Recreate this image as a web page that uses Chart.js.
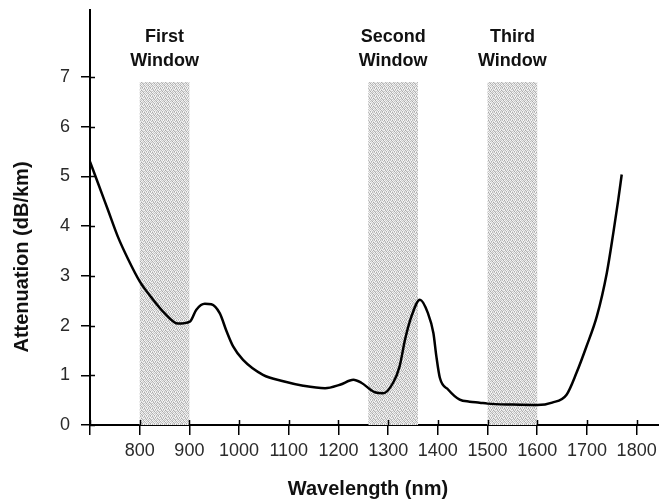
<!DOCTYPE html>
<html>
<head>
<meta charset="utf-8">
<script src="https://cdn.jsdelivr.net/npm/chart.js@4.4.1/dist/chart.umd.min.js"></script>
<style>
  html, body { margin: 0; padding: 0; background: #fff; }
  #wrap { width: 659px; height: 501px; }
</style>
</head>
<body>
<div id="wrap"><canvas id="lossChart" width="659" height="501"></canvas></div>
<script>
/*
  Fibre attenuation vs wavelength, with the three
  transmission windows shaded behind the curve.
*/

// curve samples
const wavelengthNm = [700, 716, 736, 756, 777, 800, 824, 850, 877, 901,
  914, 931, 944, 961, 975, 988, 1008, 1048, 1089, 1129,
  1173, 1203, 1230, 1246, 1273, 1290, 1310, 1323, 1334, 1347,
  1364, 1380, 1391, 1397, 1404, 1421, 1444, 1464, 1484, 1500,
  1550, 1600, 1630, 1659, 1679, 1699, 1720, 1740, 1753, 1763, 1770];
const attenuationDb = [5.30, 4.87, 4.33, 3.79, 3.33, 2.89, 2.56, 2.25, 2.04, 2.08,
  2.32, 2.44, 2.43, 2.25, 1.88, 1.58, 1.31, 1.01, 0.88, 0.79,
  0.74, 0.81, 0.91, 0.85, 0.66, 0.64, 0.85, 1.18, 1.72, 2.19,
  2.52, 2.25, 1.85, 1.38, 0.95, 0.71, 0.51, 0.47, 0.45, 0.43,
  0.41, 0.40, 0.45, 0.61, 1.05, 1.58, 2.19, 3.06, 3.86, 4.53, 5.04];

// transmission windows
const windowNames = [["First", "Window"], ["Second", "Window"], ["Third", "Window"]];
const windowStart = [800, 1260, 1500];
const windowEnd = [900, 1360, 1600];
const windowTop = 6.9;

// axes
const xTickValues = [700, 800, 900, 1000, 1100, 1200, 1300, 1400, 1500, 1600, 1700, 1800];
const xTickLabels = ["", "800", "900", "1000", "1100", "1200", "1300", "1400", "1500", "1600", "1700", "1800"];
const yTickValues = [0, 1, 2, 3, 4, 5, 6, 7];
const xTitle = "Wavelength (nm)";
const yTitle = "Attenuation (dB/km)";

const FONT = "'Liberation Sans', Arial, sans-serif";

// dotted grey fill, like a halftone screen
function makeStipple() {
  const greys = [
    0xa8, 0xf0, 0xd0, 0xfa, 0xb8, 0xe4, 0xc4, 0xf6,
    0xdc, 0xc0, 0xf8, 0xb0, 0xec, 0xd8, 0xfa, 0xbc,
    0xf4, 0xb4, 0xe0, 0xcc, 0xf2, 0xa8, 0xdc, 0xee,
    0xc8, 0xea, 0xac, 0xf6, 0xc0, 0xf0, 0xb6, 0xd4,
    0xf8, 0xd0, 0xee, 0xbc, 0xe2, 0xc8, 0xf4, 0xae,
    0xb2, 0xf4, 0xc6, 0xe6, 0xaa, 0xfa, 0xd2, 0xe8,
    0xe6, 0xbc, 0xf8, 0xd2, 0xf0, 0xb4, 0xe8, 0xc2,
    0xd6, 0xee, 0xb0, 0xf2, 0xca, 0xe0, 0xac, 0xf8
  ];
  const c = document.createElement("canvas");
  c.width = 8;
  c.height = 8;
  const g = c.getContext("2d");
  const img = g.createImageData(8, 8);
  greys.forEach((v, i) => {
    img.data[i * 4] = v;
    img.data[i * 4 + 1] = v;
    img.data[i * 4 + 2] = v;
    img.data[i * 4 + 3] = 255;
  });
  g.putImageData(img, 0, 0);
  return c;
}

const windowsPlugin = {
  id: "windows",
  beforeDatasetsDraw(chart) {
    const ctx = chart.ctx;
    const x = chart.scales.x;
    const y = chart.scales.y;
    ctx.save();
    ctx.fillStyle = ctx.createPattern(makeStipple(), "repeat");
    for (let i = 0; i < windowStart.length; i++) {
      const x0 = x.getPixelForValue(windowStart[i]);
      const x1 = x.getPixelForValue(windowEnd[i]);
      const y0 = y.getPixelForValue(windowTop);
      const y1 = y.getPixelForValue(0);
      ctx.fillRect(x0, y0, x1 - x0, y1 - y0);
    }
    ctx.restore();
  },
  afterDraw(chart) {
    const ctx = chart.ctx;
    const x = chart.scales.x;
    const y = chart.scales.y;
    ctx.save();

    // window captions
    ctx.fillStyle = "#111";
    ctx.font = "bold 18px " + FONT;
    ctx.textAlign = "center";
    ctx.textBaseline = "alphabetic";
    for (let i = 0; i < windowNames.length; i++) {
      const cx = x.getPixelForValue((windowStart[i] + windowEnd[i]) / 2);
      ctx.fillText(windowNames[i][0], cx, 42);
      ctx.fillText(windowNames[i][1], cx, 66);
    }

    // inner half of the crossing tick marks
    ctx.strokeStyle = "#000";
    ctx.lineWidth = 1.5;
    ctx.beginPath();
    xTickValues.forEach(v => {
      const px = Math.round(x.getPixelForValue(v)) + 0.5;
      ctx.moveTo(px, x.top);
      ctx.lineTo(px, x.top - 5);
    });
    yTickValues.forEach(v => {
      const py = Math.round(y.getPixelForValue(v)) + 0.5;
      ctx.moveTo(y.right, py);
      ctx.lineTo(y.right + 5, py);
    });
    ctx.stroke();

    // axis titles
    ctx.fillStyle = "#111";
    ctx.font = "bold 20px " + FONT;
    ctx.textAlign = "center";
    ctx.fillText(xTitle, 368, 495);
    ctx.translate(28, 257);
    ctx.rotate(-Math.PI / 2);
    ctx.fillText(yTitle, 0, 0);
    ctx.restore();
  }
};

const ctx = document.getElementById("lossChart");

new Chart(ctx, {
  type: "line",
  data: {
    datasets: [{
      label: "Attenuation",
      data: wavelengthNm.map((w, i) => ({ x: w, y: attenuationDb[i] })),
      borderColor: "#000",
      borderWidth: 2.5,
      pointRadius: 0,
      cubicInterpolationMode: "monotone",
      fill: false
    }]
  },
  options: {
    responsive: false,
    animation: false,
    parsing: false,
    layout: { padding: { top: 10, right: 0, bottom: 0, left: 0 } },
    plugins: {
      legend: { display: false },
      tooltip: { enabled: false }
    },
    scales: {
      x: {
        type: "linear",
        min: 700,
        max: 1845,
        afterFit: s => {
          s.height = 76;
          s.paddingLeft = 0;
          s.paddingRight = 0;
        },
        afterBuildTicks: s => { s.ticks = xTickValues.map(v => ({ value: v })); },
        border: { display: true, color: "#000", width: 2 },
        grid: {
          drawOnChartArea: false,
          drawTicks: true,
          tickLength: 10,
          color: "#000",
          lineWidth: 1.5
        },
        ticks: {
          padding: 5,
          color: "#2a2a2a",
          font: { family: FONT, size: 18 },
          maxRotation: 0,
          autoSkip: false,
          callback: (v) => xTickLabels[xTickValues.indexOf(v)]
        }
      },
      y: {
        min: 0,
        max: 8.35,
        afterFit: s => {
          s.width = 90;
          s.paddingTop = 0;
          s.paddingBottom = 0;
        },
        afterBuildTicks: s => { s.ticks = yTickValues.map(v => ({ value: v })); },
        border: { display: true, color: "#000", width: 2 },
        grid: {
          drawOnChartArea: false,
          drawTicks: true,
          tickLength: 9,
          color: "#000",
          lineWidth: 1.5
        },
        ticks: {
          padding: 11,
          color: "#2a2a2a",
          font: { family: FONT, size: 18 },
          callback: (v) => String(v)
        }
      }
    }
  },
  plugins: [windowsPlugin]
});
</script>
</body>
</html>
